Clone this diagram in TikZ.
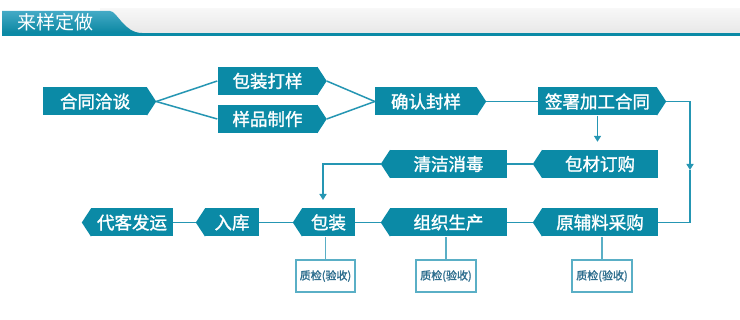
\documentclass[tikz,border=0pt]{standalone}
\usepackage{fontspec}
\newfontfamily\cjk{Noto Sans CJK SC}[AutoFakeBold=1.5]
\usetikzlibrary{arrows.meta,calc}
\definecolor{nodeteal}{HTML}{0B8AA6}
\definecolor{lineteal}{HTML}{2596B3}
\definecolor{qcline}{HTML}{5AAFC6}
\definecolor{qctext}{HTML}{2E6E8E}
\definecolor{tabT}{HTML}{44AAC6}
\definecolor{tabB}{HTML}{0B87A2}
\definecolor{barT}{HTML}{F7F7F7}
\definecolor{barB}{HTML}{E8E8E8}
\newcommand\tipE[1]{\fill[nodeteal] ([xshift=-0.3pt]#1.north east) -- ([xshift=9pt]#1.east) coordinate (#1-tip) -- ([xshift=-0.3pt]#1.south east) -- cycle;}
\newcommand\tipW[1]{\fill[nodeteal] ([xshift=0.3pt]#1.north west) -- ([xshift=-9pt]#1.west) coordinate (#1-tip) -- ([xshift=0.3pt]#1.south west) -- cycle;}
\begin{document}
\begin{tikzpicture}[x=1pt,y=-1pt,
 stepbox/.style={fill=nodeteal, text=white, inner sep=0pt, minimum height=28pt, font=\cjk\bfseries\fontsize{17.5}{17.5}\selectfont},
 qcbox/.style={draw=qcline, line width=1.2pt, fill=white, minimum width=60pt, minimum height=32pt, inner sep=0pt, text=qctext, font=\cjk\bfseries\fontsize{11}{11}\selectfont},
 conn/.style={draw=lineteal, line width=1.5pt},
 qcconn/.style={draw=qcline, line width=1.2pt},
 arr/.style={conn, -{Triangle[width=7pt,length=6pt]}}]
\useasboundingbox (0,0) rectangle (740,320);
\fill[white] (0,0) rectangle (740,320);
% header
\shade[top color=barT, bottom color=barB] (100,9) rectangle (740,33);
\shade[top color=tabT, bottom color=tabB] (2,11) -- (110,11) .. controls (117,11) and (124,33) .. (142,33) -- (2,33) -- cycle;
\fill[nodeteal] (2,33) rectangle (740,36.5);
\node[font=\cjk\fontsize{19}{19}\selectfont, text=white, anchor=west, inner sep=0pt] (title) at (17,22) {来样定做};
% nodes
\node[stepbox, minimum width=104pt] (hetong) at (95,101.5) {合同洽谈};
\node[stepbox, minimum width=100pt] (dabao) at (267.5,81) {包装打样};
\node[stepbox, minimum width=100pt] (yangpin) at (267.5,119) {样品制作};
\node[stepbox, minimum width=102pt] (queren) at (426,101.5) {确认封样};
\node[stepbox, minimum width=119pt] (qianshu) at (597.5,101.5) {签署加工合同};
\node[stepbox, minimum width=116pt] (baocai) at (600,164) {包材订购};
\node[stepbox, minimum width=117pt] (qingjie) at (448.5,164) {清洁消毒};
\node[stepbox, minimum width=116pt] (yuanfu) at (600,222.5) {原辅料采购};
\node[stepbox, minimum width=117pt] (zuzhi) at (448.5,222.5) {组织生产};
\node[stepbox, minimum width=53pt] (baozhuang) at (328.5,222.5) {包装};
\node[stepbox, minimum width=54pt] (ruku) at (232,222.5) {入库};
\node[stepbox, minimum width=82pt] (daike) at (132,222.5) {代客发运};
\tipE{hetong}\tipE{dabao}\tipE{yangpin}\tipE{queren}\tipE{qianshu}
\tipW{baocai}\tipW{qingjie}\tipW{yuanfu}\tipW{zuzhi}\tipW{baozhuang}\tipW{ruku}\tipW{daike}
\node[qcbox, minimum width=59pt] (qc1) at (325.5,276) {质检(验收)};
\node[qcbox] (qc2) at (446,276) {质检(验收)};
\node[qcbox] (qc3) at (602,276) {质检(验收)};
% connectors
\draw[conn] (hetong-tip) -- (dabao.west);
\draw[conn] (hetong-tip) -- (yangpin.west);
\draw[conn] (dabao-tip) -- (queren.west);
\draw[conn] (yangpin-tip) -- (queren.west);
\draw[conn] (queren-tip) -- (qianshu.west);
\draw[arr, shorten >=8pt] (qianshu.south) -- (qianshu.south |- baocai.north);
\coordinate (rdrop) at (690,170);
\draw[arr] (qianshu-tip) -| (rdrop);
\draw[conn] (rdrop) |- (yuanfu.east);
\draw[conn] (baocai-tip) -- (qingjie.east);
\coordinate (pkdrop) at (323,200);
\draw[arr] (qingjie-tip) -| (pkdrop);
\draw[conn] (yuanfu-tip) -- (zuzhi.east);
\draw[conn] (zuzhi-tip) -- (baozhuang.east);
\draw[conn] (baozhuang-tip) -- (ruku.east);
\draw[conn] (ruku-tip) -- (daike.east);
\draw[qcconn] (qc1.north) -- (qc1.north |- baozhuang.south);
\draw[qcconn] (qc2.north) -- (qc2.north |- zuzhi.south);
\draw[qcconn] (qc3.north) -- (qc3.north |- yuanfu.south);
\end{tikzpicture}
\end{document}
